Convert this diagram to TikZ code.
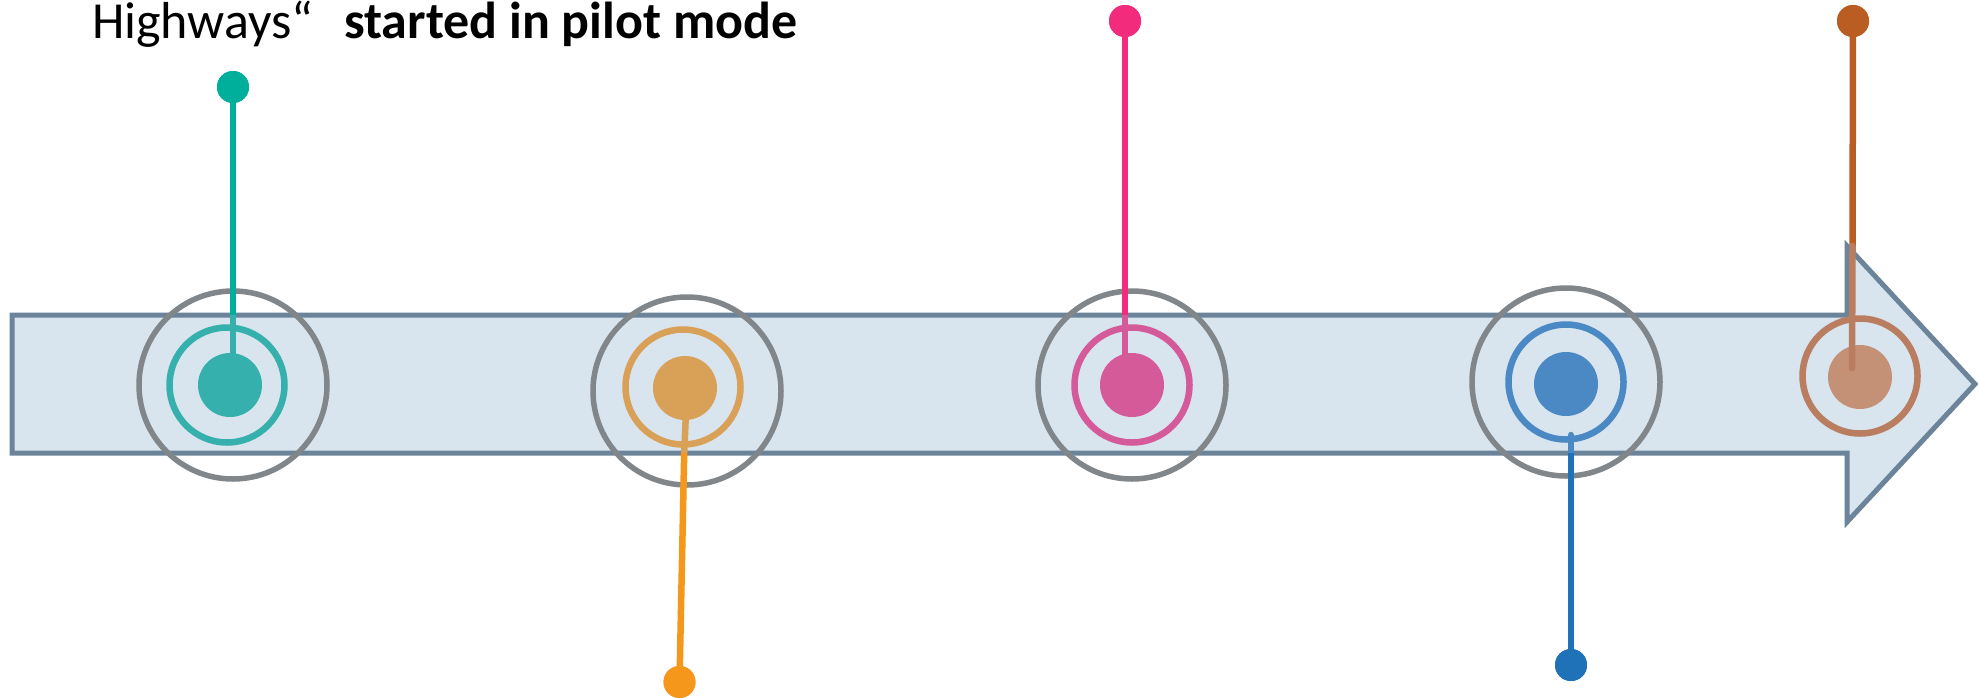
\documentclass[tikz,border=0pt]{standalone}
\usepackage{fontspec}
\setmainfont{Carlito}
\definecolor{bandfill}{HTML}{D8E4EE}
\definecolor{banddraw}{HTML}{6B8499}
\definecolor{greyc}{HTML}{80868A}
\definecolor{tealB}{HTML}{00AE9C}
\definecolor{tealM}{HTML}{36B0AC}
\definecolor{orangeB}{HTML}{F5971B}
\definecolor{orangeM}{HTML}{D9A157}
\definecolor{pinkB}{HTML}{F22B7C}
\definecolor{pinkM}{HTML}{D55A99}
\definecolor{blueB}{HTML}{1F71B8}
\definecolor{blueM}{HTML}{4A89C4}
\definecolor{brownB}{HTML}{BA5D23}
\definecolor{brownM}{HTML}{C49176}
\definecolor{brownR}{HTML}{B97D60}
\tikzset{
  band/.style={fill=bandfill, draw=banddraw, line width=5pt, line join=miter},
  outerring/.style={circle, draw=greyc, line width=5.5pt, minimum size=188pt, inner sep=0pt},
  ring/.style={circle, draw=#1, line width=6.5pt, minimum size=115pt, inner sep=0pt},
  dot/.style={circle, fill=#1, minimum size=64pt, inner sep=0pt},
  pin/.style={circle, fill=#1, minimum size=32pt, inner sep=0pt},
  stem/.style={draw=#1, line width=6.5pt},
}
\begin{document}
\begin{tikzpicture}[x=1pt,y=-1pt]
\useasboundingbox (0,0) rectangle (1978,697);
\fill[white] (0,0) rectangle (1978,697);

% timeline arrow
\draw[band] (12,315) -- (1847,315) -- (1847,246) -- (1975,384) -- (1847,522) -- (1847,453) -- (12,453) -- cycle;

% outer grey circles
\node[outerring] (t-out) at (233,385) {};
\node[outerring] (o-out) at (687,391) {};
\node[outerring] (p-out) at (1132,385) {};
\node[outerring] (b-out) at (1566,382) {};

% coloured rings
\node[ring=tealM] (t-ring) at (227,385) {};
\node[ring=orangeM] (o-ring) at (683,387) {};
\node[ring=pinkM] (p-ring) at (1132,385) {};
\node[ring=blueM] (b-ring) at (1566,382) {};
\node[ring=brownR] (r-ring) at (1860,376) {};

% pins (outer ends)
\node[pin=tealB] (t-pin) at (233,87) {};
\node[pin=pinkB] (p-pin) at (1125,21) {};
\node[pin=brownB] (r-pin) at (1853,21) {};
\node[pin=orangeB] (o-pin) at (679.5,682) {};
\node[pin=blueB] (b-pin) at (1571,665) {};

% inner dots positions
\coordinate (t-c) at (230,385);
\coordinate (o-c) at (685,388);
\coordinate (p-c) at (1132,385);
\coordinate (b-c) at (1566,384);
\coordinate (r-c) at (1860,377);

% band edge points
\coordinate (t-edge) at (233,315);
\coordinate (t-end) at (233,360);
\coordinate (p-edge) at (1125,315);
\coordinate (p-end) at (1125,360);
\coordinate (o-start) at (686.5,400);
\coordinate (o-edge) at (684.2,453);
\coordinate (b-start) at (1571,435);
\coordinate (b-edge) at (1571,453);
\coordinate (r-edge) at (1852.5,246);
\coordinate (r-end) at (1852,368);

% stems
\draw[stem=tealB] (t-pin.center) -- (t-edge);
\draw[stem=tealM] (t-edge) -- (t-end);
\draw[stem=pinkB] (p-pin.center) -- (p-edge);
\draw[stem=pinkM] (p-edge) -- (p-end);
\draw[stem=orangeM] (o-start) -- (o-edge);
\draw[stem=orangeB] (o-edge) -- (o-pin.center);
\draw[stem=blueM, line cap=round] (b-start) -- (b-edge);
\draw[stem=blueB] (b-edge) -- (b-pin.center);

% inner dots
\node[dot=tealM] (t-dot) at (t-c) {};
\node[dot=orangeM] (o-dot) at (o-c) {};
\node[dot=pinkM] (p-dot) at (p-c) {};
\node[dot=blueM] (b-dot) at (b-c) {};
\node[dot=brownM] (r-dot) at (r-c) {};

% brown stem drawn over its dot
\draw[stem=brownB] (r-pin.center) -- (r-edge);
\draw[stem=brownR, line cap=round] (r-edge) -- (r-end);

% redraw pins on top
\node[pin=tealB] at (t-pin) {};
\node[pin=pinkB] at (p-pin) {};
\node[pin=brownB] at (r-pin) {};
\node[pin=orangeB] at (o-pin) {};
\node[pin=blueB] at (b-pin) {};

% caption
\node[anchor=base west, inner sep=0pt, font=\fontsize{52}{60}\selectfont] (cap) at (92,38) {Highways“\hspace{0.6em}\textbf{started in pilot mode}};
\end{tikzpicture}
\end{document}
